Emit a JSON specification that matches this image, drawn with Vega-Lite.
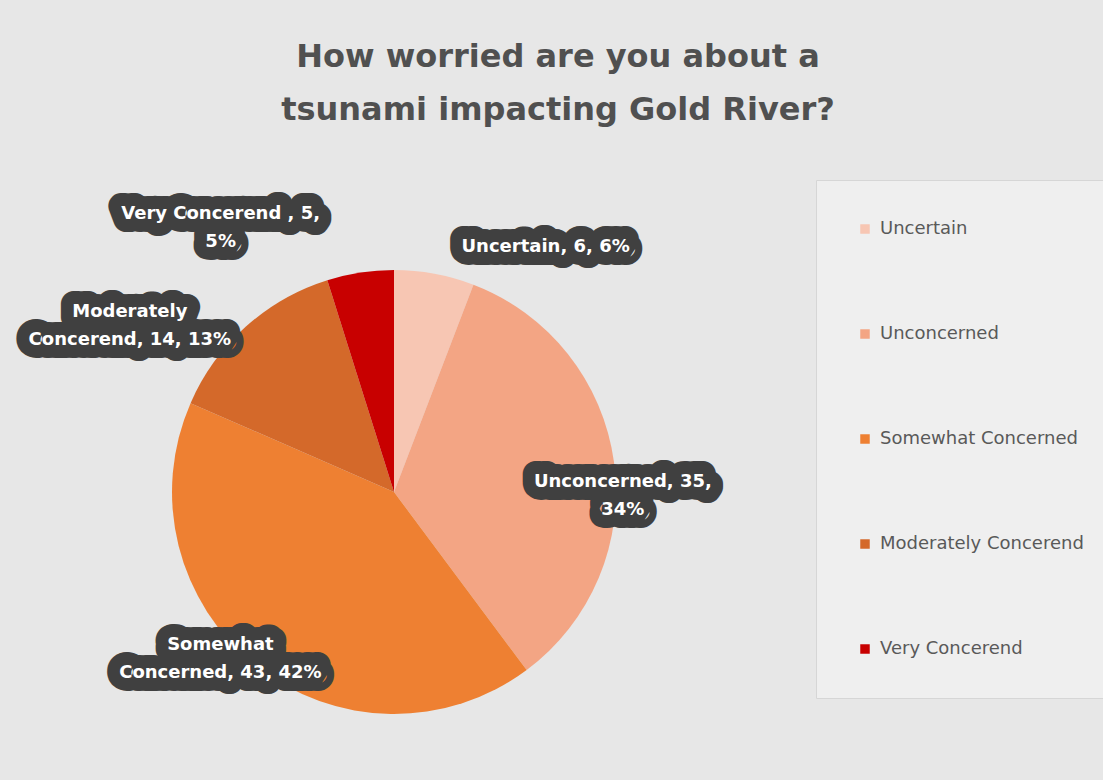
{
  "$schema": "https://vega.github.io/schema/vega-lite/v6.json",
  "description": "Pie chart: How worried are you about a tsunami impacting Gold River?",
  "width": 444,
  "height": 444,
  "autosize": "none",
  "padding": {"left": 172, "top": 270, "right": 487, "bottom": 66},
  "background": "#e7e7e7",
  "title": {
    "text": ["How worried are you about a", "tsunami impacting Gold River?"],
    "anchor": "middle",
    "frame": "group",
    "dx": 164,
    "offset": 53,
    "font": "DejaVu Sans",
    "fontSize": 32,
    "fontWeight": "bold",
    "lineHeight": 53,
    "color": "#505050"
  },
  "data": {
    "values": [
      {"category": "Uncertain", "count": 6, "order": 1, "label": "Uncertain, 6, 6%"},
      {"category": "Unconcerned", "count": 35, "order": 2, "label": "Unconcerned, 35,\n34%"},
      {"category": "Somewhat Concerned", "count": 43, "order": 3, "label": "Somewhat\nConcerned, 43, 42%"},
      {"category": "Moderately Concerend", "count": 14, "order": 4, "label": "Moderately\nConcerend, 14, 13%"},
      {"category": "Very Concerend", "count": 5, "order": 5, "label": "Very Concerend , 5,\n5%"}
    ]
  },
  "encoding": {
    "theta": {"field": "count", "type": "quantitative", "stack": true},
    "order": {"field": "order", "type": "quantitative"},
    "detail": {"field": "category", "type": "nominal"}
  },
  "layer": [
    {
      "mark": {"type": "arc"},
      "encoding": {
        "color": {
          "field": "category",
          "type": "nominal",
          "scale": {
            "domain": ["Uncertain", "Unconcerned", "Somewhat Concerned", "Moderately Concerend", "Very Concerend"],
            "range": ["#f7c6b3", "#f3a584", "#ee8032", "#d4692a", "#c80000"]
          },
          "legend": {
            "title": null,
            "orient": "none",
            "legendX": 644,
            "legendY": -90,
            "padding": 40,
            "fillColor": "#efefef",
            "strokeColor": "#d6d6d6",
            "symbolType": "square",
            "symbolSize": 90,
            "symbolStrokeWidth": 0,
            "labelFont": "DejaVu Sans",
            "labelFontSize": 18,
            "labelColor": "#595959",
            "labelOffset": 6,
            "labelLimit": 400,
            "rowPadding": 87
          }
        }
      }
    },
    {
      "encoding": {
        "text": {"condition": {"test": "datum.category === 'Uncertain'", "field": "label"}, "value": ""},
        "radius": {"value": 267}
      },
      "layer": [
        {"mark": {"type": "text", "dx": 103, "dy": 18, "font": "DejaVu Sans", "fontSize": 18, "fontWeight": "bold", "lineBreak": "\n", "lineHeight": 28, "fill": "#404040", "stroke": "#404040", "strokeWidth": 26, "strokeJoin": "round"}},
        {"mark": {"type": "text", "dx": 103, "dy": 18, "font": "DejaVu Sans", "fontSize": 18, "fontWeight": "bold", "lineBreak": "\n", "lineHeight": 28, "fill": "white"}}
      ]
    },
    {
      "encoding": {
        "text": {"condition": {"test": "datum.category === 'Unconcerned'", "field": "label"}, "value": ""},
        "radius": {"value": 227}
      },
      "layer": [
        {"mark": {"type": "text", "dx": 4, "dy": 21, "font": "DejaVu Sans", "fontSize": 18, "fontWeight": "bold", "lineBreak": "\n", "lineHeight": 28, "fill": "#404040", "stroke": "#404040", "strokeWidth": 26, "strokeJoin": "round"}},
        {"mark": {"type": "text", "dx": 4, "dy": 21, "font": "DejaVu Sans", "fontSize": 18, "fontWeight": "bold", "lineBreak": "\n", "lineHeight": 28, "fill": "white"}}
      ]
    },
    {
      "encoding": {
        "text": {"condition": {"test": "datum.category === 'Somewhat Concerned'", "field": "label"}, "value": ""},
        "radius": {"value": 239}
      },
      "layer": [
        {"mark": {"type": "text", "dx": -25, "dy": -34, "font": "DejaVu Sans", "fontSize": 18, "fontWeight": "bold", "lineBreak": "\n", "lineHeight": 28, "fill": "#404040", "stroke": "#404040", "strokeWidth": 26, "strokeJoin": "round"}},
        {"mark": {"type": "text", "dx": -25, "dy": -34, "font": "DejaVu Sans", "fontSize": 18, "fontWeight": "bold", "lineBreak": "\n", "lineHeight": 28, "fill": "white"}}
      ]
    },
    {
      "encoding": {
        "text": {"condition": {"test": "datum.category === 'Moderately Concerend'", "field": "label"}, "value": ""},
        "radius": {"value": 304}
      },
      "layer": [
        {"mark": {"type": "text", "dx": -61, "dy": 46, "font": "DejaVu Sans", "fontSize": 18, "fontWeight": "bold", "lineBreak": "\n", "lineHeight": 28, "fill": "#404040", "stroke": "#404040", "strokeWidth": 26, "strokeJoin": "round"}},
        {"mark": {"type": "text", "dx": -61, "dy": 46, "font": "DejaVu Sans", "fontSize": 18, "fontWeight": "bold", "lineBreak": "\n", "lineHeight": 28, "fill": "white"}}
      ]
    },
    {
      "encoding": {
        "text": {"condition": {"test": "datum.category === 'Very Concerend'", "field": "label"}, "value": ""},
        "radius": {"value": 292}
      },
      "layer": [
        {"mark": {"type": "text", "dx": -129, "dy": 11, "font": "DejaVu Sans", "fontSize": 18, "fontWeight": "bold", "lineBreak": "\n", "lineHeight": 28, "fill": "#404040", "stroke": "#404040", "strokeWidth": 26, "strokeJoin": "round"}},
        {"mark": {"type": "text", "dx": -129, "dy": 11, "font": "DejaVu Sans", "fontSize": 18, "fontWeight": "bold", "lineBreak": "\n", "lineHeight": 28, "fill": "white"}}
      ]
    }
  ],
  "config": {
    "view": {"stroke": null}
  }
}
